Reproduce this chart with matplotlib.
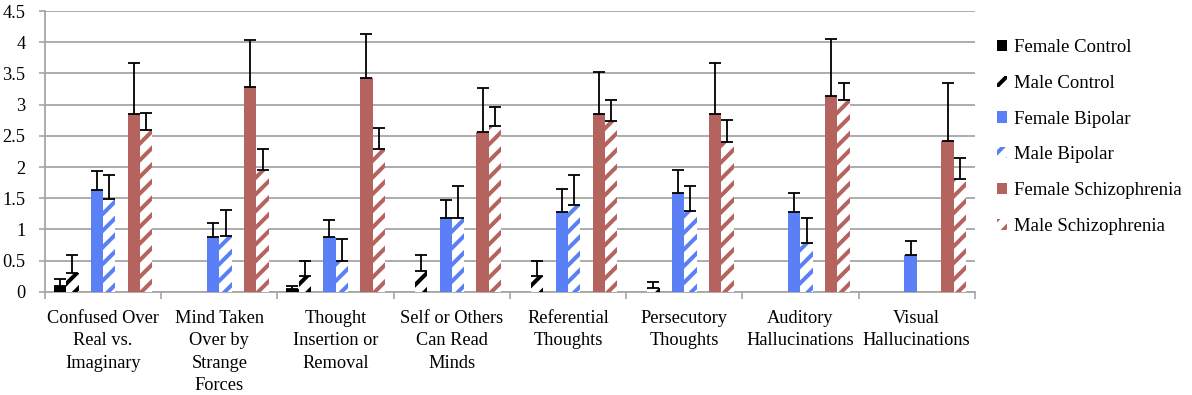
import numpy as np
import matplotlib
matplotlib.use("Agg")
import matplotlib.pyplot as plt
from matplotlib.patches import Patch

categories = ["Confused Over\nReal vs.\nImaginary", "Mind Taken\nOver by\nStrange\nForces",
              "Thought\nInsertion or\nRemoval", "Self or Others\nCan Read\nMinds",
              "Referential\nThoughts", "Persecutory\nThoughts",
              "Auditory\nHallucinations", "Visual\nHallucinations"]
series = ["Female Control", "Male Control", "Female Bipolar", "Male Bipolar",
          "Female Schizophrenia", "Male Schizophrenia"]
nan = np.nan
female_control = [0.10, nan, 0.05, nan, nan, nan, nan, nan]
male_control = [0.30, nan, 0.25, 0.33, 0.25, 0.06, nan, nan]
female_bipolar = [1.63, 0.88, 0.88, 1.19, 1.28, 1.59, 1.28, 0.59]
male_bipolar = [1.49, 0.90, 0.50, 1.18, 1.39, 1.30, 0.79, nan]
female_schiz = [2.85, 3.29, 3.42, 2.57, 2.85, 2.85, 3.14, 2.42]
male_schiz = [2.59, 1.95, 2.29, 2.66, 2.74, 2.40, 3.07, 1.81]
err_female_control = [0.10, nan, 0.05, nan, nan, nan, nan, nan]
err_male_control = [0.29, nan, 0.25, 0.26, 0.25, 0.10, nan, nan]
err_female_bipolar = [0.30, 0.23, 0.27, 0.29, 0.37, 0.36, 0.31, 0.23]
err_male_bipolar = [0.39, 0.41, 0.34, 0.51, 0.49, 0.40, 0.39, nan]
err_female_schiz = [0.81, 0.74, 0.72, 0.69, 0.68, 0.81, 0.91, 0.93]
err_male_schiz = [0.28, 0.34, 0.34, 0.31, 0.34, 0.36, 0.27, 0.34]

values = [female_control, male_control, female_bipolar, male_bipolar, female_schiz, male_schiz]
errors = [err_female_control, err_male_control, err_female_bipolar, err_male_bipolar,
          err_female_schiz, err_male_schiz]
colors = ["#000000", "#000000", "#5B80F6", "#5B80F6", "#B5635F", "#B5635F"]
hatched = [False, True, False, True, False, True]
slots = [-3.5, -2.5, -0.5, 0.5, 2.5, 3.5]

plt.rcParams['font.family'] = ['Liberation Serif', 'DejaVu Serif']
plt.rcParams['hatch.linewidth'] = 2.9

fig = plt.figure(figsize=(11.92, 3.95), dpi=100)
ax = fig.add_axes([0.0378, 0.261, 0.780, 0.711])

w = 0.106
centers = np.arange(len(categories)) + 0.5
grid_c = "#A6A6A6"
fs = 13.2
handles = []
for i, (vals, errs) in enumerate(zip(values, errors)):
    x = centers + slots[i] * w
    v = np.array(vals, dtype=float)
    e = np.array(errs, dtype=float)
    if hatched[i]:
        ax.bar(x, np.nan_to_num(v), width=w, facecolor="white", edgecolor=colors[i],
               hatch="//", linewidth=0, zorder=3)
        handles.append(Patch(facecolor="white", edgecolor=colors[i], hatch="//",
                             linewidth=0, label=series[i]))
    else:
        ax.bar(x, np.nan_to_num(v), width=w, color=colors[i], linewidth=0, zorder=3)
        handles.append(Patch(facecolor=colors[i], linewidth=0, label=series[i]))
    ax.errorbar(x, v, yerr=[np.zeros_like(e), e], fmt="none", ecolor="black",
                elinewidth=1.3, capsize=4.2, capthick=1.3, zorder=4)

ax.set_xlim(0, len(categories))
ax.set_ylim(0, 4.5)
ax.set_yticks(np.arange(0, 4.51, 0.5))
ax.set_yticklabels(["0", "0.5", "1", "1.5", "2", "2.5", "3", "3.5", "4", "4.5"], fontsize=fs)
ax.yaxis.grid(True, color=grid_c, linewidth=1.3, zorder=0)
ax.set_axisbelow(True)

ax.set_xticks(centers)
ax.set_xticklabels(categories, fontsize=fs, linespacing=1.42, va="top")
ax.set_xticks(np.arange(0, len(categories) + 1), minor=True)
ax.tick_params(axis="x", which="major", length=0, pad=13)
ax.tick_params(axis="x", which="minor", length=5, color=grid_c, width=1.2, direction="out")
ax.tick_params(axis="y", length=4, color=grid_c, width=1.2, pad=10)

for s in ["top", "right"]:
    ax.spines[s].set_visible(False)
for s in ["left", "bottom"]:
    ax.spines[s].set_color(grid_c)
    ax.spines[s].set_linewidth(1.3)

fig.legend(handles=handles, loc="upper left", bbox_to_anchor=(0.830, 0.92),
           frameon=False, prop={'family': ['Liberation Serif', 'DejaVu Serif'], 'size': fs + 0.3},
           handlelength=0.55, handleheight=0.55,
           handletextpad=0.35, labelspacing=1.0, borderaxespad=0)

fig.savefig("out.png", dpi=100)
